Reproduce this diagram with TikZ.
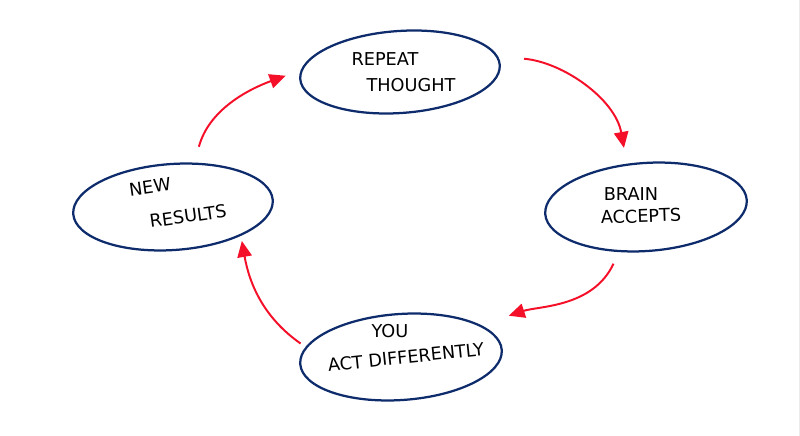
\documentclass[tikz,border=0pt]{standalone}
\usepackage{fontspec}
\newfontfamily\handfont{DejaVu Sans}
\usepackage{tikz}
\usetikzlibrary{shapes.geometric,arrows.meta}
\definecolor{ringblue}{HTML}{0E2C6C}
\definecolor{loopred}{HTML}{F5102A}

\begin{document}
\begin{tikzpicture}[x=0.25mm,y=0.25mm,
    ring/.style={ellipse,draw=ringblue,line width=1.6pt,inner sep=0pt,rotate=4},
    hand/.style={font=\handfont\fontsize{12.6}{15}\selectfont,inner sep=0pt},
    flow/.style={draw=loopred,line width=1.4pt,-{Triangle[length=4mm,width=3.6mm]}}]
\useasboundingbox (0,0) rectangle (800,436);
\draw[black!8,line width=0.6pt] (799,0) -- (799,436);
\node[ring,minimum width=50mm,minimum height=20.5mm] (thought) at (400,364) {};
\node[ring,minimum width=50.5mm,minimum height=22mm] (brain) at (646,229) {};
\node[ring,minimum width=50.5mm,minimum height=21.5mm] (act) at (401,79) {};
\node[ring,minimum width=50mm,minimum height=21.5mm] (results) at (173,229) {};
\node[hand] (t1) at (385,377) {REPEAT};
\node[hand] (t2) at (411,351) {THOUGHT};
\node[hand] (b1) at (631,242) {BRAIN};
\node[hand,rotate=2] (b2) at (641,220) {ACCEPTS};
\node[hand] (a1) at (390,105) {YOU};
\node[hand,rotate=6] (a2) at (406,79) {ACT DIFFERENTLY};
\node[hand,rotate=8] (r1) at (150,249) {NEW};
\node[hand,rotate=8] (r2) at (188,220) {RESULTS};
\draw[flow,shorten <=6.5mm,shorten >=4mm] (thought.5) to[out=-5,in=100] (brain.110);
\draw[flow,shorten <=3.2mm,shorten >=7.4mm] (brain.-125) to[out=-115,in=18] (act.18);
\draw[flow,shorten <=1.5mm,shorten >=1.3mm] (act.170) to[out=145,in=-80] (results.-27);
\draw[flow,shorten <=4.1mm,shorten >=4mm] (results.60) to[out=75,in=200] (thought.175);
\end{tikzpicture}
\end{document}
